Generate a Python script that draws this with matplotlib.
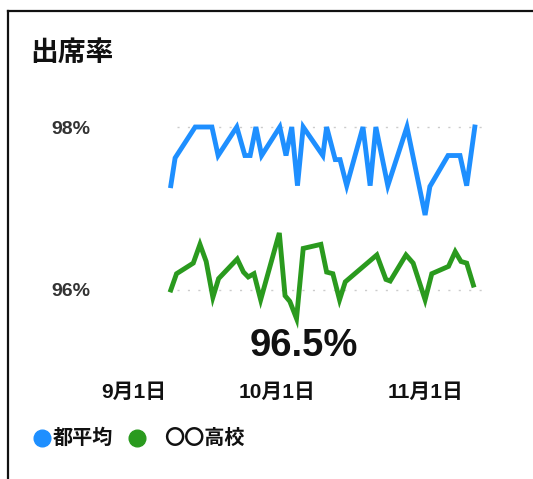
import matplotlib
matplotlib.use("Agg")
import matplotlib.pyplot as plt
from matplotlib.lines import Line2D

plt.rcParams['font.family'] = ['Liberation Sans', 'Noto Sans CJK JP', 'DejaVu Sans']

title = "出席率"
big_value = "96.5%"
tick_days = [0, 30, 61]
tick_labels = ["9月1日", "10月1日", "11月1日"]
ytick_values = [96, 98]
ytick_labels = ["96%", "98%"]
series_names = ["都平均", "〇〇高校"]
colors = ["#1e8fff", "#2a9a1e"]

# days since Sep 1
avg_days = [7.7, 8.6, 12.8, 16.3, 17.6, 21.5, 23.2, 24.3, 25.5, 26.7, 30.5, 31.8,
            33.0, 34.2, 35.4, 39.5, 40.3, 42.1, 43.1, 44.5, 47.9, 49.4, 50.6, 53.1,
            57.1, 60.9, 61.9, 65.7, 68.2, 69.6, 71.3]
avg_vals = [97.28, 97.62, 98.0, 98.0, 97.65, 98.0, 97.65, 97.65, 98.0, 97.65, 98.0, 97.65,
            98.0, 97.28, 98.0, 97.65, 98.0, 97.6, 97.6, 97.28, 98.0, 97.28, 98.0, 97.28,
            98.0, 96.92, 97.27, 97.65, 97.65, 97.28, 98.0]

school_days = [7.7, 8.9, 12.4, 13.8, 15.1, 16.5, 17.7, 21.6, 22.9, 23.9, 25.1, 26.5,
               30.4, 31.6, 32.6, 34.0, 35.4, 39.1, 40.3, 41.6, 43.0, 44.2, 50.8, 52.7,
               53.6, 56.9, 58.4, 60.9, 62.3, 65.8, 67.2, 68.4, 69.6, 71.0]
school_vals = [96.0, 96.2, 96.33, 96.56, 96.35, 95.91, 96.14, 96.38, 96.22, 96.16, 96.2, 95.88,
               96.7, 95.93, 95.86, 95.65, 96.51, 96.56, 96.22, 96.2, 95.88, 96.1, 96.43, 96.13,
               96.11, 96.43, 96.33, 95.88, 96.2, 96.29, 96.47, 96.35, 96.33, 96.06]

W, H = 533, 479
fig = plt.figure(figsize=(W / 100, H / 100), dpi=100)

def fx(px):
    return px / W

def fy(py):
    return 1 - py / H

# axes: pixel left 100, right 490, top 110, bottom 330
ax = fig.add_axes([fx(100), fy(330), fx(390), 220 / H])
px_per_day = 4.78
x0_px = 134
ax.set_xlim((100 - x0_px) / px_per_day, (490 - x0_px) / px_per_day)
ax.set_ylim(96 - (330 - 290) / 81.5, 98 + (127 - 110) / 81.5)

for v in ytick_values:
    ax.axhline(v, xmin=(177 - 100) / 390, xmax=(488 - 100) / 390, color="#cccccc",
               lw=1.0, ls=(0, (1.5, 6)), zorder=1)

ax.plot(avg_days, avg_vals, color=colors[0], lw=3.5, solid_joinstyle='miter', zorder=3)
ax.plot(school_days, school_vals, color=colors[1], lw=3.5, solid_joinstyle='miter', zorder=3)

for s in ax.spines.values():
    s.set_visible(False)
ax.set_xticks(tick_days)
ax.set_xticklabels(tick_labels, fontsize=15, fontweight='bold', color='#111111')
ax.set_yticks(ytick_values)
ax.set_yticklabels(ytick_labels, fontsize=14, fontweight='bold', color='#333333')
ax.tick_params(axis='x', length=0, pad=38)
ax.tick_params(axis='y', length=0, pad=7)

# big value
fig.text(fx(304), fy(346), big_value, fontsize=27.5, fontweight='bold', color='#111111',
         ha='center', va='center')

# title
fig.text(fx(30), fy(54), title, fontsize=20, fontweight='bold', color='#111111',
         ha='left', va='center')

# legend
fig.add_artist(Line2D([fx(42)], [fy(438)], marker='o', markersize=12, color=colors[0],
                      transform=fig.transFigure, lw=0))
fig.text(fx(53), fy(438), series_names[0], fontsize=14.5, fontweight='bold', color='#111111',
         ha='left', va='center')
fig.add_artist(Line2D([fx(137)], [fy(438)], marker='o', markersize=12, color=colors[1],
                      transform=fig.transFigure, lw=0))
fig.text(fx(164), fy(438), series_names[1], fontsize=14.5, fontweight='bold', color='#111111',
         ha='left', va='center')

# frame
fig.add_artist(Line2D([fx(8), fx(8)], [fy(11), 0], color='#111111', lw=1.6,
                      transform=fig.transFigure))
fig.add_artist(Line2D([fx(8), 1], [fy(11), fy(11)], color='#111111', lw=1.6,
                      transform=fig.transFigure))

fig.savefig("out.png", dpi=100)
